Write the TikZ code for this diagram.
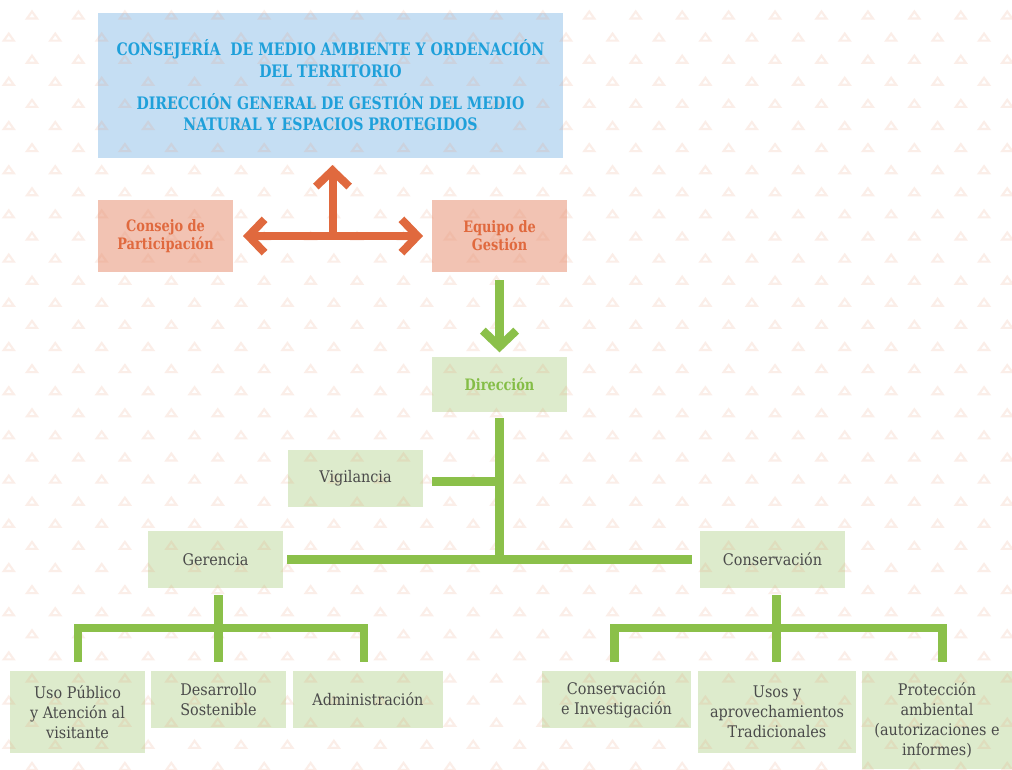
\documentclass[tikz,border=0pt]{standalone}
\usepackage{fontspec}
\setmainfont{DejaVu Serif}[FakeStretch=0.9]
\newfontfamily\hfont{DejaVu Serif}[FakeStretch=0.82]
\usetikzlibrary{arrows.meta,calc}
\definecolor{topfill}{HTML}{C5DEF3}
\definecolor{titleblue}{HTML}{1FA0DA}
\definecolor{orfill}{HTML}{F2C3B3}
\definecolor{orline}{HTML}{E0693E}
\definecolor{grfill}{HTML}{DDEBCC}
\definecolor{grline}{HTML}{8BC04A}
\definecolor{grtext}{HTML}{84BD46}
\definecolor{txtgray}{HTML}{4A4A4A}
\definecolor{tricol}{HTML}{EB9673}
\pgfdeclarelayer{bg}
\pgfdeclarelayer{pat}
\pgfsetlayers{bg,pat,main}
\begin{document}
\begin{tikzpicture}[x=0.75pt,y=-0.75pt,
  box/.style={rectangle,inner sep=0pt,outer sep=0pt,align=center},
  regtext/.style={box,text=txtgray,font=\fontsize{12}{15}\selectfont},
  ortext/.style={box,text=orline,font=\hfont\bfseries\fontsize{11.8}{13.5}\selectfont},
  oline/.style={draw=orline,line width=6pt},
  gline/.style={draw=grline,line width=6.2pt,line join=miter},
  barb/.tip={Straight Barb[length=12pt,width=25pt,sharp]},
  tri/.style={draw=tricol,line width=1.6pt,draw opacity=0.16,line join=miter}]
\useasboundingbox (0,0) rectangle (1012,769);

% nodes
\node[box,minimum width=348.75pt,minimum height=108.75pt,text=titleblue,
  font=\hfont\bfseries\fontsize{12.9}{16.2}\selectfont] (top) at (330.5,85.5)
  {\raisebox{3pt}{\parbox{340pt}{\centering CONSEJERÍA\ \ DE MEDIO AMBIENTE Y ORDENACIÓN\\DEL TERRITORIO\\[7.5pt]DIRECCIÓN GENERAL DE GESTIÓN DEL MEDIO\\NATURAL Y ESPACIOS PROTEGIDOS}}};
\node[ortext,minimum width=101.25pt,minimum height=54pt] (cons) at (165.5,236) {Consejo de\\Participación};
\node[ortext,minimum width=101.25pt,minimum height=54pt] (equ) at (499.5,236) {Equipo de\\Gestión};
\node[box,text=grtext,font=\hfont\bfseries\fontsize{11.8}{13.5}\selectfont,minimum width=101.25pt,minimum height=41.25pt] (dir) at (499.5,384.5) {Dirección};
\node[regtext,minimum width=101.25pt,minimum height=42.75pt] (vig) at (355.5,478.5) {Vigilancia};
\node[regtext,minimum width=101.25pt,minimum height=42.75pt] (ger) at (215.5,559.5) {Gerencia};
\node[regtext,minimum width=108.75pt,minimum height=42.75pt] (con) at (772.5,559.5) {Conservación};
\node[regtext,minimum width=101.25pt,minimum height=61.5pt] (uso) at (77.5,712) {Uso Público\\y Atención al\\visitante};
\node[regtext,minimum width=101.25pt,minimum height=42.75pt] (des) at (218.5,699.5) {Desarrollo\\Sostenible};
\node[regtext,minimum width=112.5pt,minimum height=42.75pt] (adm) at (368,699.5) {Administración};
\node[regtext,minimum width=111.75pt,minimum height=42.75pt] (cei) at (616.5,699.5) {Conservación\\e Investigación};
\node[regtext,minimum width=118.5pt,minimum height=61.5pt] (usos) at (777,712) {Usos y\\aprovechamientos\\Tradicionales};
\node[regtext,minimum width=112.5pt,minimum height=73.5pt] (pro) at (937,720) {Protección\\ambiental\\(autorizaciones e\\informes)};

% fills and background
\begin{pgfonlayer}{bg}
\fill[white] (0,0) rectangle (1012,769);
\foreach \n/\c in {top/topfill,cons/orfill,equ/orfill,dir/grfill,vig/grfill,ger/grfill,con/grfill,uso/grfill,des/grfill,adm/grfill,cei/grfill,usos/grfill,pro/grfill}
  \fill[\c] (\n.south west) rectangle (\n.north east);
\end{pgfonlayer}

% triangle pattern
\begin{pgfonlayer}{pat}
\draw[tri] \foreach \k [evaluate=\k as \yy using {15+22.1*\k}, evaluate=\k as \xo using {32-23.2*mod(\k,2)}] in {0,...,34} {
  \foreach \i in {0,...,22} { ({\xo+46.44*\i-5},{\yy+3.5}) -- ++(10,0) -- ++(-5,-7) -- cycle } };
\end{pgfonlayer}

% orange connectors
\coordinate (omid) at ($(cons.east)!0.5!(equ.west)$);
\draw[oline,barb-barb,shorten <=7.5pt,shorten >=6.75pt] (cons.east) -- (equ.west);
\draw[oline,-barb,shorten >=5.25pt] (omid) -- (omid |- top.south);

% green connectors
\draw[gline,-barb,shorten <=6pt,shorten >=3.5pt] (equ.south) -- (dir.north);
\draw[gline] ($(dir.south)+(0,6)$) -- (dir.south |- ger.east);
\draw[gline,shorten <=3pt,shorten >=6pt] (ger.east) -- (con.west);
\draw[gline,shorten <=6.75pt] ($(vig.east)+(0,3)$) -- ($(vig.east -| dir.south)+(0,3)$);

% Gerencia tree
\coordinate (gl) at ($(uso.north)+(0.5,-9)$);
\coordinate (gm) at ($(des.north)+(0,-9)$);
\coordinate (gr) at ($(adm.north)+(-4,-9)$);
\draw[gline] (gl) -- ++(0,-34) -| (gr);
\draw[gline] ($(ger.south -| gm)+(0,7)$) -- (gm);

% Conservación tree
\coordinate (cl) at ($(cei.north)+(-2,-9)$);
\coordinate (cm) at ($(usos.north)+(-0.5,-9)$);
\coordinate (cr) at ($(pro.north)+(5.5,-9)$);
\draw[gline] (cl) -- ++(0,-34) -| (cr);
\draw[gline] ($(con.south -| cm)+(0,7)$) -- (cm);
\end{tikzpicture}
\end{document}
